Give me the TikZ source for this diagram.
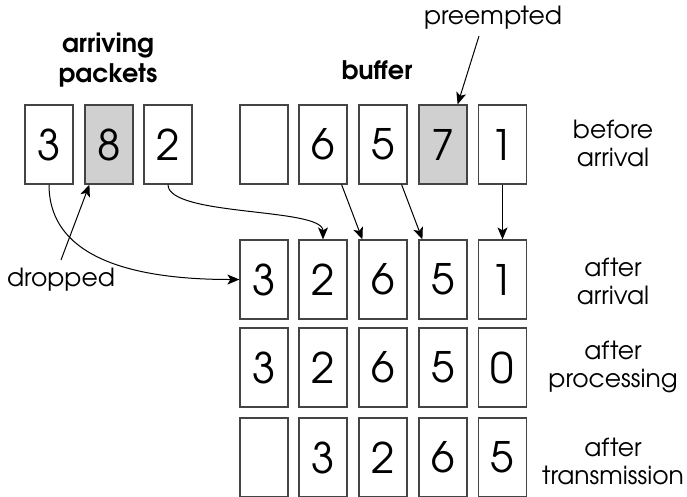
\documentclass[tikz,border=0pt]{standalone}
\usepackage{fontspec}
\setmainfont{TeX Gyre Adventor}
\usetikzlibrary{arrows.meta}
\definecolor{boxgray}{HTML}{444444}
\definecolor{cellgray}{HTML}{D0D0D0}
\begin{document}
\begin{tikzpicture}[x=1pt,y=-1pt,
  cell/.style={draw=boxgray, line width=1.2pt, minimum width=48pt, minimum height=79pt, inner sep=0pt, font=\fontsize{42}{50}\selectfont},
  hit/.style={cell, fill=cellgray},
  lbl/.style={font=\fontsize{25}{28}\selectfont, align=center, inner sep=0pt},
  boldlbl/.style={font=\fontsize{25.5}{30}\selectfont\bfseries, align=center, inner sep=0pt},
  conn/.style={draw=black, line width=1pt, -{Stealth[length=12pt,width=10pt,inset=3pt]}}
]
\useasboundingbox (0,0) rectangle (687,496);
% arriving packets
\node[cell] (a1) at (49,144.5) {3};
\node[hit]  (a2) at (109,144.5) {8};
\node[cell] (a3) at (168,144.5) {2};
% buffer before arrival
\node[cell] (b1) at (264,144.5) {};
\node[cell] (b2) at (323,144.5) {6};
\node[cell] (b3) at (383,144.5) {5};
\node[hit]  (b4) at (443,144.5) {7};
\node[cell] (b5) at (502.5,144.5) {1};
% after arrival
\node[cell] (c1) at (264,279.5) {3};
\node[cell] (c2) at (323,279.5) {2};
\node[cell] (c3) at (383,279.5) {6};
\node[cell] (c4) at (443,279.5) {5};
\node[cell] (c5) at (502.5,279.5) {1};
% after processing
\node[cell] (d1) at (264,367.5) {3};
\node[cell] (d2) at (323,367.5) {2};
\node[cell] (d3) at (383,367.5) {6};
\node[cell] (d4) at (443,367.5) {5};
\node[cell] (d5) at (502.5,367.5) {0};
% after transmission
\node[cell] (e1) at (264,457.5) {};
\node[cell] (e2) at (323,457.5) {3};
\node[cell] (e3) at (383,457.5) {2};
\node[cell] (e4) at (443,457.5) {6};
\node[cell] (e5) at (502.5,457.5) {5};
% labels
\node[boldlbl] (lap) at (108,60) {arriving\\packets};
\node[boldlbl] (lbuf) at (377,70) {buffer};
\node[lbl] (lpre) at (493,18) {preempted};
\node[lbl] (ldrop) at (61,280) {dropped};
\node[lbl] (r1) at (613,143) {before\\arrival};
\node[lbl] (r2) at (613,281) {after\\arrival};
\node[lbl] (r3) at (613,367) {after\\processing};
\node[lbl] (r4) at (613,461) {after\\transmission};
% connectors
\draw[conn] (a1.south) to[out=-90,in=180] (c1.west);
\draw[conn] (a3.south) to[out=-90,in=90,looseness=0.5] (c2.north);
\draw[conn] ([xshift=-6pt]b2.south east) -- ([xshift=4pt]c3.north west);
\draw[conn] ([xshift=-6pt]b3.south east) -- ([xshift=4pt]c4.north west);
\draw[conn] (b5.south) -- (c5.north);
\coordinate (pf) at (479,36);
\draw[conn] (pf) -- ([xshift=-10pt]b4.north east);
\coordinate (df) at (61,260);
\draw[conn] (df) -- ([xshift=5pt]a2.south west);
\end{tikzpicture}
\end{document}
